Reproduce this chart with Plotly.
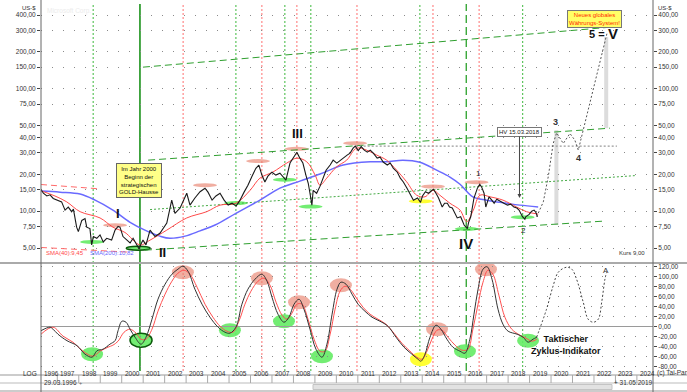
import math
import plotly.graph_objects as go

# ---------------- data (decimal years / US-$) ----------------
price_t = [1996.24,1996.35,1996.51,1996.66,1996.81,1997.05,1997.20,1997.36,1997.51,1997.67,
           1997.75,1997.90,1997.98,1998.14,1998.29,1998.37,1998.52,1998.60,1998.68,1998.84,
           1998.99,1999.14,1999.30,1999.53,1999.69,1999.83,1999.92,2000.06,2000.25,2000.39,
           2000.53,2000.71,2000.81,2000.90,2000.99,2001.13,2001.32,2001.55,2001.78,2002.10,
           2002.33,2002.48,2002.72,2003.03,2003.18,2003.41,2003.65,2003.88,2004.02,2004.21,
           2004.39,2004.58,2004.77,2004.96,2005.14,2005.33,2005.51,2005.70,2005.88,2006.07,
           2006.25,2006.39,2006.53,2006.67,2006.81,2007.00,2007.18,2007.37,2007.56,2007.65,
           2007.84,2008.02,2008.16,2008.30,2008.44,2008.58,2008.69,2008.77,2008.86,2008.92,
           2009.08,2009.24,2009.38,2009.52,2009.71,2009.85,2010.02,2010.18,2010.32,2010.50,
           2010.64,2010.78,2010.88,2011.02,2011.16,2011.30,2011.44,2011.58,2011.72,2011.90,
           2012.04,2012.18,2012.37,2012.51,2012.65,2012.84,2012.98,2013.12,2013.29,2013.45,
           2013.59,2013.78,2013.92,2014.01,2014.15,2014.29,2014.43,2014.52,2014.66,2014.76,
           2014.93,2015.04,2015.17,2015.27,2015.40,2015.51,2015.63,2015.79,2015.95,2016.10,
           2016.16,2016.26,2016.41,2016.57,2016.68,2016.77,2016.88,2016.96,2017.11,2017.24,
           2017.35,2017.47,2017.66,2017.80,2017.97,2018.12,2018.27,2018.41,2018.51,2018.67,
           2018.78,2018.82,2018.98,2019.10,2019.21,2019.29,2019.37]
price_v = [15.0,14.0,13.3,13.6,12.7,12.3,11.9,10.2,10.8,9.9,
           10.4,7.4,6.8,8.4,8.7,7.4,7.2,5.3,6.2,6.0,
           6.4,5.6,6.0,5.8,7.0,7.5,7.4,6.2,5.8,5.5,
           6.0,5.2,4.9,5.4,5.8,5.3,7.0,6.2,6.6,8.0,
           12.3,9.6,10.6,14.0,11.2,12.8,14.4,15.4,14.3,12.3,
           13.3,14.0,12.3,11.2,11.6,11.0,12.3,14.3,16.3,19.3,
           22.4,23.8,19.7,17.3,19.3,20.8,19.7,20.4,18.6,17.9,
           24.7,27.6,30.3,27.1,24.7,19.7,16.9,14.0,11.2,14.8,
           14.0,16.0,18.6,21.6,23.8,26.1,24.7,26.1,27.1,28.7,
           29.8,32.7,34.0,31.2,33.6,31.5,30.3,31.5,29.8,27.1,
           27.6,25.2,23.8,24.7,22.4,20.8,18.6,17.3,15.4,13.5,
           12.3,12.8,11.8,13.3,14.4,14.0,14.8,15.1,13.8,12.8,
           10.8,11.6,11.6,10.8,10.6,9.6,8.8,9.0,7.7,7.2,
           8.1,9.0,12.8,15.4,16.6,15.7,14.0,10.8,13.1,12.3,
           11.6,12.5,11.9,11.6,11.2,11.4,10.8,10.6,10.2,9.0,
           8.6,9.0,9.4,10.0,10.2,9.8,9.0]

sma40_t = [1996.27,1996.89,1997.44,1998.06,1998.99,1999.59,2000.15,2000.85,2001.32,2002.10,
           2003.03,2003.96,2004.58,2005.32,2005.98,2006.44,2007.05,2007.69,2008.16,2008.62,
           2009.01,2009.24,2009.55,2010.01,2010.48,2010.94,2011.41,2011.88,2012.34,2012.81,
           2013.27,2013.74,2014.13,2014.50,2014.82,2015.29,2015.76,2016.07,2016.38,2016.69,
           2017.15,2017.76,2018.40,2018.86,2019.40]
sma40_v = [14.6,13.3,11.9,9.9,8.8,7.4,6.7,5.3,5.8,7.0,
           8.8,9.9,11.2,11.6,14.8,18.6,20.9,24.7,27.1,25.3,
           19.7,16.3,18.6,23.0,26.1,32.7,31.5,28.7,26.1,21.6,
           17.4,13.5,13.1,14.8,13.5,11.6,10.2,8.2,10.2,13.5,
           13.1,12.3,10.8,9.9,9.45]

sma200_t = [1996.24,1997.13,1998.06,1998.76,1999.59,2000.39,2001.08,2001.78,2002.25,2002.95,
            2003.65,2004.35,2005.32,2006.44,2007.37,2008.30,2009.24,2010.32,2011.58,2012.34,
            2013.10,2013.89,2014.67,2015.29,2015.76,2016.36,2017.00,2017.93,2018.55,2019.40]
sma200_v = [14.6,14.3,13.8,12.3,10.2,8.1,7.0,6.25,6.0,6.25,
            6.9,7.7,9.6,12.3,15.4,17.6,20.1,23.8,25.3,25.3,
            26.1,25.1,21.6,19.0,16.6,13.1,12.3,11.6,11.2,10.82]

# forecast path (upper panel)
fc_t = [2019.33,2019.64,2019.87,2020.10,2020.26,2020.57,2020.88,2021.11,2021.27,2021.50,2021.82,2022.28,2022.61]
fc_v = [9.0,11.9,19.1,35.7,43.6,35.7,43.1,38.0,31.5,45.9,80.7,165,285]

# channel / trend lines (start, end)
chan_upper_t, chan_upper_v = [2000.99, 2022.74], [150, 318]
chan_mid_t, chan_mid_v = [2001.23, 2022.74], [26.1, 47.6]
chan_dot_t, chan_dot_v = [2001.32, 2023.90], [10.3, 19.5]
chan_low_t, chan_low_v = [2001.08, 2022.50], [4.8, 8.3]
bear_up_t, bear_up_v = [1996.24, 1998.99], [16.5, 15.2]
bear_lo_t, bear_lo_v = [1996.24, 2000.39], [5.05, 4.62]
resist_t, resist_v = [2010.90, 2023.07], [34.0, 34.0]

# target bars
bar_t = [2020.25, 2022.57]
bar_lo = [7.7, 47.6]
bar_hi = [45.9, 264]

# cycle marks, upper panel
top_hi_t = [1999.69, 2003.88, 2006.35, 2008.15, 2010.87, 2014.50, 2016.53]
top_hi_v = [7.4, 15.7, 24.7, 31.1, 34.6, 15.3, 16.6]
top_lo_t = [1998.62, 2000.77, 2005.32, 2007.60, 2008.80, 2016.07, 2018.68]
top_lo_v = [5.4, 4.8, 11.2, 17.4, 10.5, 6.9, 8.6]
top_ye_t, top_ye_v = [2013.93], [11.6]

# oscillator (Taktischer Zyklus-Indikator)
osc_t = [1996.24,1996.66,1996.80,1997.03,1997.45,1997.92,1998.29,1998.62,1998.85,1999.13,
         1999.45,1999.69,1999.83,2000.01,2000.20,2000.39,2000.62,2000.90,2001.13,2001.41,
         2001.69,2002.02,2002.34,2002.62,2002.85,2003.09,2003.41,2003.74,2004.11,2004.49,
         2004.81,2005.04,2005.32,2005.60,2005.88,2006.21,2006.53,2006.77,2007.00,2007.28,
         2007.56,2007.79,2008.03,2008.26,2008.49,2008.77,2009.05,2009.33,2009.56,2009.80,
         2010.03,2010.21,2010.45,2010.73,2011.01,2011.33,2011.66,2012.03,2012.40,2012.78,
         2013.15,2013.52,2013.80,2013.94,2014.13,2014.36,2014.64,2014.87,2015.15,2015.43,
         2015.76,2015.99,2016.22,2016.41,2016.60,2016.83,2017.02,2017.25,2017.53,2017.76,
         2018.00,2018.42,2018.70,2018.93,2019.16,2019.34]
osc_v = [-8,-1,-5,-15,-28,-38,-55,-61,-48,-45,
         -35,-28,-8,11,9,-5,-21,-35,-21,15,
         55,85,105,115,121,111,75,45,19,-1,
         -11,-13,-1,45,75,95,105,91,59,25,
         9,19,45,55,35,-5,-45,-61,-35,25,
         75,89,85,65,45,31,19,11,1,-21,
         -41,-55,-65,-69,-55,-21,3,-5,-25,-41,
         -49,-53,-25,25,75,115,120,95,35,5,
         -9,-15,-21,-31,-25,-21]
sig_t = [1996.24,1996.80,1997.27,1997.73,1998.20,1998.66,1998.99,1999.36,1999.59,1999.83,
         2000.11,2000.39,2000.67,2000.90,2001.13,2001.41,2001.69,2002.02,2002.34,2002.62,
         2002.90,2003.18,2003.51,2003.88,2004.25,2004.58,2004.90,2005.18,2005.46,2005.74,
         2006.02,2006.35,2006.63,2006.91,2007.19,2007.47,2007.70,2007.93,2008.16,2008.40,
         2008.68,2008.96,2009.24,2009.47,2009.71,2009.94,2010.17,2010.40,2010.64,2010.91,
         2011.24,2011.57,2011.94,2012.31,2012.68,2013.05,2013.43,2013.75,2013.99,2014.22,
         2014.45,2014.69,2014.92,2015.20,2015.53,2015.85,2016.13,2016.36,2016.60,2016.83,
         2017.06,2017.29,2017.57,2017.85,2018.17,2018.55,2018.83,2019.11,2019.34]
sig_v = [-15,-1,-19,-31,-49,-59,-49,-41,-37,-29,
         -11,-5,-13,-25,-25,-5,31,65,91,107,
         113,105,79,45,19,1,-9,-11,11,45,
         71,91,97,83,49,23,15,27,45,45,
         15,-25,-49,-49,-15,35,71,81,75,59,
         39,25,15,5,-13,-33,-49,-61,-65,-49,
         -25,-7,-7,-21,-37,-47,-45,-5,45,89,
         113,105,63,19,-5,-17,-23,-29,-25]
fco_t = [2019.33,2019.79,2020.10,2020.34,2020.73,2020.97,2021.19,2021.50,2021.73,2021.97,2022.20,2022.36,2022.51,2022.59]
fco_v = [-21,35,82,109,119,115,95,49,15,9,15,49,95,109]

low_hi_t = [2002.85, 2006.53, 2008.26, 2010.21, 2014.69, 2016.97]
low_hi_v = [109, 97, 49, 83, -5, 115]
low_lo_t = [1998.62, 2000.90, 2005.04, 2007.56, 2009.33, 2015.99, 2018.93]
low_lo_v = [-55, -27, -7, 11, -59, -49, -28]
low_ye_t, low_ye_v = [2013.94], [-65]

# vertical cycle lines
vl_green_dot = [1998.67, 2005.32, 2007.60, 2008.81, 2013.89, 2018.68]
vl_red_dot = [2002.86, 2006.53, 2008.16, 2010.96, 2014.50, 2016.65]
vl_green_solid = [2000.85]
vl_green_dash = [2016.05]

years = list(range(1996, 2025))
price_ticks = [5, 7.5, 10, 15, 20, 30, 40, 50, 75, 100, 150, 200, 300, 400]
osc_ticks = [-80, -60, -40, -20, 0, 20, 40, 60, 80, 100, 120]

# ---------------- layout geometry ----------------
W, H = 687, 392
L, R, T, B = 41, 34, 4, 21
X0, X1 = 1996.24, 2024.75
PW, PH = W - L - R, H - T - B
def PX(px): return (px - L) / PW
def PY(py): return (H - B - py) / PH

FONT = "Liberation Sans, Arial, sans-serif"
def fmt(v): return f"{v:.2f}".replace(".", ",")

fig = go.Figure()
def line(x, y, color, width=1, dash=None, xa='x', ya='y', shape='linear'):
    fig.add_trace(go.Scatter(x=x, y=y, mode='lines', xaxis=xa, yaxis=ya, hoverinfo='skip',
                             line=dict(color=color, width=width, dash=dash, shape=shape)))

# channel lines
line(bear_up_t, bear_up_v, '#ff6a6a', 1, '6px,4px')
line(bear_lo_t, bear_lo_v, '#ff6a6a', 1, '6px,4px')
line(chan_upper_t, chan_upper_v, '#2f9f2f', 1, '7px,4px')
line(chan_mid_t, chan_mid_v, '#2f9f2f', 1, '7px,4px')
line(chan_dot_t, chan_dot_v, '#44aa44', 1, '2px,2px')
line(chan_low_t, chan_low_v, '#2f9f2f', 1, '7px,4px')
line(resist_t, resist_v, '#999999', 1.2, '2px,2px')
# MAs and price
line(sma200_t, sma200_v, '#6a6aff', 1.5, shape='spline')
line(sma40_t, sma40_v, '#ff4a4a', 1, shape='spline')
line(price_t, price_v, '#1a1a1a', 1.1)
line(fc_t, fc_v, '#555555', 1, '2px,2px')
# right axis dummy
fig.add_trace(go.Scatter(x=[X0], y=[10], xaxis='x', yaxis='y3', mode='markers',
                         marker=dict(opacity=0), hoverinfo='skip'))
# lower panel
line(sig_t, sig_v, '#ff5050', 1, xa='x2', ya='y2', shape='spline')
line(osc_t, osc_v, '#333333', 1, xa='x2', ya='y2', shape='spline')
line(fco_t, fco_v, '#444444', 1, '2px,2px', xa='x2', ya='y2', shape='spline')

shapes = []
# vertical lines
for t in vl_green_dot:
    shapes.append(dict(type='line', xref='x', yref='paper', x0=t, x1=t, y0=0, y1=1,
                       line=dict(color='#3cb83c', width=1, dash='2px,2px'), layer='below'))
for t in vl_red_dot:
    shapes.append(dict(type='line', xref='x', yref='paper', x0=t, x1=t, y0=0, y1=1,
                       line=dict(color='#ff7070', width=1, dash='2px,2px'), layer='below'))
for t in vl_green_solid:
    shapes.append(dict(type='line', xref='x', yref='paper', x0=t, x1=t, y0=0, y1=1,
                       line=dict(color='#0a8a0a', width=1.5), layer='below'))
for t in vl_green_dash:
    shapes.append(dict(type='line', xref='x', yref='paper', x0=t, x1=t, y0=0, y1=1,
                       line=dict(color='#1a9a1a', width=1.2, dash='8px,4px'), layer='below'))
# target bars
for t, lo, hi in zip(bar_t, bar_lo, bar_hi):
    shapes.append(dict(type='rect', xref='x', yref='y', xsizemode='pixel', xanchor=t,
                       x0=-2, x1=2, y0=lo, y1=hi, fillcolor='#dcdcdc', line=dict(width=0),
                       layer='below'))

def ellipse(t, v, color, xr, yr, ya='y', xa='x', outline=None):
    shapes.append(dict(type='circle', xref=xa, yref=ya, xsizemode='pixel', ysizemode='pixel',
                       xanchor=t, yanchor=v, x0=-xr, x1=xr, y0=-yr, y1=yr,
                       fillcolor=color, layer='below',
                       line=dict(color=outline or color, width=1.5 if outline else 0)))
SAL, GRN, YEL = 'rgba(232,130,110,0.65)', 'rgba(100,235,100,0.9)', 'rgba(255,255,40,0.95)'
for t, v in zip(top_hi_t, top_hi_v): ellipse(t, v, SAL, 12, 4)
for i, (t, v) in enumerate(zip(top_lo_t, top_lo_v)):
    ellipse(t, v, GRN, 12, 4, outline='#0a5a0a' if i == 1 else None)
for t, v in zip(top_ye_t, top_ye_v): ellipse(t, v, YEL, 12, 4)
for t, v in zip(low_hi_t, low_hi_v): ellipse(t, v, SAL, 11, 7, ya='y2', xa='x2')
for i, (t, v) in enumerate(zip(low_lo_t, low_lo_v)):
    ellipse(t, v, GRN, 11, 7, ya='y2', xa='x2', outline='#0a5a0a' if i == 1 else None)
for t, v in zip(low_ye_t, low_ye_v): ellipse(t, v, YEL, 11, 7, ya='y2', xa='x2')

# frame lines
def pl(x0, y0, x1, y1, color='#999999', width=1):
    shapes.append(dict(type='line', xref='paper', yref='paper', x0=PX(x0), x1=PX(x1),
                       y0=PY(y0), y1=PY(y1), line=dict(color=color, width=width)))
pl(0, 263, W, 263, '#aaaaaa', 2)
pl(0, 375, W, 375, '#999999', 1)
pl(0, 383, W, 383, '#bbbbbb', 1)
pl(0, 391, W, 391, '#999999', 1)
pl(41, 0, 41, 392, '#666666', 1)
pl(653, 0, 653, 392, '#666666', 1)
# year separators
for y in years[1:]:
    shapes.append(dict(type='line', xref='x', yref='paper', x0=y, x1=y, y0=PY(375), y1=PY(383),
                       line=dict(color='#aaaaaa', width=1)))
# scrollbar
shapes.append(dict(type='rect', xref='paper', yref='paper', x0=PX(313), x1=PX(612),
                   y0=PY(384.5), y1=PY(389.5), fillcolor='#e2e2e2', line=dict(color='#c4c4c4', width=1)))

ann = []
def A(text, x, y, xref='x', yref='y', size=8, color='#111', **kw):
    d = dict(text=text, x=x, y=y, xref=xref, yref=yref, showarrow=False,
             font=dict(size=size, color=color, family=FONT))
    d.update(kw)
    ann.append(d)
lg = math.log10
# numerals
A('<b>I</b>', 1999.83, lg(9.6), size=13)
A('<b>II</b>', 2001.88, lg(4.62), size=13)
A('<b>III</b>', 2008.17, lg(43.4), size=13)
A('<b>IV</b>', 2016.04, lg(5.48), size=15)
A('1', 2016.60, lg(20.4), size=8)
A('2', 2018.70, lg(7.0), size=8)
A('<b>3</b>', 2020.19, lg(53.3), size=9, color='#333')
A('<b>4</b>', 2021.26, lg(27.1), size=9, color='#333')
A('<b>5 =</b>', 2022.12, lg(280), size=11, borderpad=0)
A('<b>V</b>', 2022.88, lg(280), size=15, borderpad=0)
A('A', 2022.56, 113, xref='x2', yref='y2', size=8, color='#333')
# boxes
A('Im Jahr 2000<br>Beginn der<br>strategischen<br>GOLD-Hausse', 2000.81, lg(17.9), size=6,
  bgcolor='#ffff88', bordercolor='#666', borderwidth=1, borderpad=2)
A('Neues globales<br>Währungs-System!', PX(622), PY(9.5), xref='paper', yref='paper', size=6,
  color='#ff2a00', bgcolor='#ffff66', bordercolor='#777', borderwidth=1, borderpad=1)
ann.append(dict(text='HV 15.03.2018', x=2018.53, y=lg(12.8), xref='x', yref='y',
                showarrow=True, ax=0, ay=-66, arrowhead=2, arrowsize=0.8, arrowwidth=1,
                arrowcolor='#444', bgcolor='#ffffff', bordercolor='#777', borderwidth=1,
                borderpad=1, font=dict(size=6, color='#222', family=FONT)))
A('<b>Taktischer<br>Zyklus-Indikator</b>', 2020.72, -37, xref='x2', yref='y2', size=9)
# labels
A('SMA(40):9,45', PX(44), PY(258), xref='paper', yref='paper', size=6, color='#ff4a4a', xanchor='left')
A('SMA(200):10,82', PX(88), PY(258), xref='paper', yref='paper', size=6, color='#6a6aff', xanchor='left')
A('Kurs 9,00', PX(647), PY(257.5), xref='paper', yref='paper', size=6, color='#333', xanchor='right')
A('US-$', PX(38), PY(3.5), xref='paper', yref='paper', size=6, color='#333', xanchor='right')
A('US-$', PX(656), PY(3.5), xref='paper', yref='paper', size=6, color='#333', xanchor='left')
A('Microsoft Corp.', PX(45), PY(5), xref='paper', yref='paper', size=6.5, color='#ececec', xanchor='left')
A('LOG', PX(21), PY(379), xref='paper', yref='paper', size=6.5, color='#333')
A('(c) Tai-Pan', PX(655), PY(379), xref='paper', yref='paper', size=6.5, color='#333', xanchor='left')
A('29.03.1996', PX(42), PY(387.5), xref='paper', yref='paper', size=6.5, color='#333', xanchor='left')
A('+', PX(77), PY(387.5), xref='paper', yref='paper', size=5.5, color='#666', xanchor='left')
A('+ 31.05.2019', PX(612), PY(387.5), xref='paper', yref='paper', size=6.5, color='#333', xanchor='left')
for y in years:
    A(str(y), max(y, X0), PY(379), yref='paper', size=6.5, color='#333', xanchor='left', xshift=1)

top_dom = [PY(262), 1.0]
low_dom = [0.0, PY(264)]
ylo, yhi = 0.5846, 2.692
grid = dict(showgrid=True, gridcolor='#8a8a8a', gridwidth=1, griddash='1px,10px')
tickfont = dict(size=6.5, color='#333', family=FONT)

fig.update_layout(
    width=W, height=H, margin=dict(l=L, r=R, t=T, b=B),
    paper_bgcolor='white', plot_bgcolor='white', showlegend=False,
    font=dict(family=FONT),
    xaxis=dict(domain=[0, 1], range=[X0, X1], anchor='y', showticklabels=False, showgrid=False,
               zeroline=False, ticks=''),
    xaxis2=dict(domain=[0, 1], range=[X0, X1], anchor='y2', matches='x', showticklabels=False,
                showgrid=False, zeroline=False, ticks=''),
    yaxis=dict(domain=top_dom, type='log', range=[ylo, yhi], tickvals=price_ticks,
               ticktext=[fmt(v) for v in price_ticks], side='left', ticks='outside', ticklen=3,
               tickcolor='#444', tickfont=tickfont, zeroline=False, **grid),
    yaxis3=dict(domain=top_dom, type='log', range=[ylo, yhi], overlaying='y', side='right',
                anchor='x', tickvals=price_ticks, ticktext=[fmt(v) for v in price_ticks],
                ticks='outside', ticklen=3, tickcolor='#444', tickfont=tickfont, showgrid=False,
                zeroline=False),
    yaxis2=dict(domain=low_dom, range=[-88.6, 125.4], tickvals=osc_ticks,
                ticktext=[fmt(v) for v in osc_ticks], side='right', anchor='x2', ticks='outside',
                ticklen=3, tickcolor='#444', tickfont=tickfont, zeroline=True,
                zerolinecolor='#9a9a9a', zerolinewidth=1, **grid),
    shapes=shapes, annotations=ann,
)

fig.write_html("out.html", config={'displayModeBar': False},
               post_script="document.body.style.margin='0px';document.body.style.overflow='hidden';")
